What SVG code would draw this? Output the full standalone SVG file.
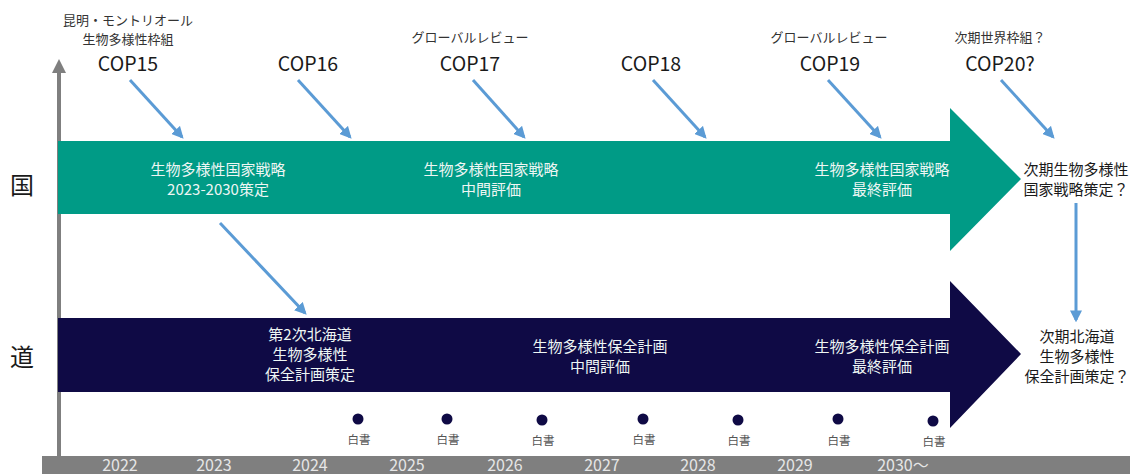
<svg xmlns="http://www.w3.org/2000/svg" width="1130" height="474" viewBox="0 0 1130 474">
<defs>
<style>
text{font-family:"Noto Sans CJK JP","Noto Sans",sans-serif;text-anchor:middle}
.cop{font-size:19.5px;fill:#1a1a1a}
.sub{font-size:13px;fill:#333}
.in{font-size:15px;fill:#eef6f4}
.out{font-size:15px;fill:#1a1a1a}
.yr{font-size:16px;fill:#e6e6e6}
.wp{font-size:11.5px;fill:#555}
.side{font-size:24px;fill:#1a1a1a}
.blue{stroke:#5b9bd5;stroke-width:3;fill:none;marker-end:url(#ah)}
.dot{fill:#0f0a45}
</style>
<marker id="ah" viewBox="0 0 10 10" refX="8" refY="5" markerWidth="4" markerHeight="4" orient="auto" markerUnits="strokeWidth">
<path d="M0,0 L10,5 L0,10 z" fill="#5b9bd5"/>
</marker>
<marker id="gh" viewBox="0 0 10 10" refX="5" refY="5" markerWidth="3.5" markerHeight="3.5" orient="auto" markerUnits="strokeWidth">
<path d="M0,0 L10,5 L0,10 z" fill="#7f7f7f"/>
</marker>
</defs>

<g id="axis">
<line x1="59" y1="456" x2="59" y2="66" stroke="#7f7f7f" stroke-width="4" marker-end="url(#gh)"/>
</g>

<g id="timebar">
<rect x="42" y="456" width="1088" height="18" fill="#7f7f7f"/>
<text class="yr" x="120" y="471">2022</text>
<text class="yr" x="214" y="471">2023</text>
<text class="yr" x="310" y="471">2024</text>
<text class="yr" x="407" y="471">2025</text>
<text class="yr" x="505" y="471">2026</text>
<text class="yr" x="602" y="471">2027</text>
<text class="yr" x="698" y="471">2028</text>
<text class="yr" x="795" y="471">2029</text>
<text class="yr" x="903" y="471">2030～</text>
</g>

<g id="label-kuni"><text class="side" x="22" y="194">国</text></g>
<g id="label-do"><text class="side" x="22" y="366">道</text></g>

<g id="national-arrow">
<path d="M58,141 H950 V108 L1021,179 L950,251 V214 H58 Z" fill="#009b86"/>
<text class="in" x="218" y="175">生物多様性国家戦略</text>
<text class="in" x="218" y="195">2023-2030策定</text>
<text class="in" x="491" y="175">生物多様性国家戦略</text>
<text class="in" x="491" y="195">中間評価</text>
<text class="in" x="882" y="175">生物多様性国家戦略</text>
<text class="in" x="882" y="195">最終評価</text>
</g>

<g id="hokkaido-arrow">
<path d="M58,318 H950 V281 L1021,354 L950,428 V392 H58 Z" fill="#0f0a45"/>
<text class="in" x="310" y="340">第2次北海道</text>
<text class="in" x="310" y="360">生物多様性</text>
<text class="in" x="310" y="380">保全計画策定</text>
<text class="in" x="600" y="352">生物多様性保全計画</text>
<text class="in" x="600" y="372">中間評価</text>
<text class="in" x="882" y="352">生物多様性保全計画</text>
<text class="in" x="882" y="372">最終評価</text>
</g>

<g id="next-national"><text class="out" x="1076" y="175">次期生物多様性</text><text class="out" x="1076" y="195">国家戦略策定？</text></g>
<g id="next-hokkaido"><text class="out" x="1077" y="342">次期北海道</text><text class="out" x="1077" y="362">生物多様性</text><text class="out" x="1077" y="382">保全計画策定？</text></g>

<g id="cop15"><text class="sub" x="128" y="25">昆明・モントリオール</text><text class="sub" x="128" y="44">生物多様性枠組</text><text class="cop" x="128" y="71">COP15</text></g>
<g id="cop16"><text class="cop" x="308" y="71">COP16</text></g>
<g id="cop17"><text class="sub" x="470" y="42">グローバルレビュー</text><text class="cop" x="470" y="71">COP17</text></g>
<g id="cop18"><text class="cop" x="651" y="71">COP18</text></g>
<g id="cop19"><text class="sub" x="829" y="42">グローバルレビュー</text><text class="cop" x="830" y="71">COP19</text></g>
<g id="cop20"><text class="sub" x="1000" y="42">次期世界枠組？</text><text class="cop" x="1000" y="71">COP20?</text></g>

<g id="whitepapers">
<circle class="dot" cx="358" cy="419" r="5.5"/><text class="wp" x="359" y="444">白書</text>
<circle class="dot" cx="447" cy="419" r="5.5"/><text class="wp" x="448" y="444">白書</text>
<circle class="dot" cx="542" cy="420" r="5.5"/><text class="wp" x="543" y="445">白書</text>
<circle class="dot" cx="643" cy="419" r="5.5"/><text class="wp" x="644" y="444">白書</text>
<circle class="dot" cx="738" cy="420" r="5.5"/><text class="wp" x="739" y="445">白書</text>
<circle class="dot" cx="838" cy="419" r="5.5"/><text class="wp" x="839" y="445">白書</text>
<circle class="dot" cx="933" cy="421" r="5.5"/><text class="wp" x="934" y="446">白書</text>
</g>

<g id="connectors">
<line class="blue" x1="130" y1="80" x2="182" y2="137"/>
<line class="blue" x1="298" y1="80" x2="350" y2="137"/>
<line class="blue" x1="473" y1="80" x2="524" y2="137"/>
<line class="blue" x1="653" y1="80" x2="705" y2="137"/>
<line class="blue" x1="828" y1="80" x2="880" y2="137"/>
<line class="blue" x1="1001" y1="80" x2="1053" y2="137"/>
<line class="blue" x1="220" y1="223" x2="305" y2="313"/>
<line class="blue" x1="1076" y1="203" x2="1076" y2="320"/>
</g>
</svg>
